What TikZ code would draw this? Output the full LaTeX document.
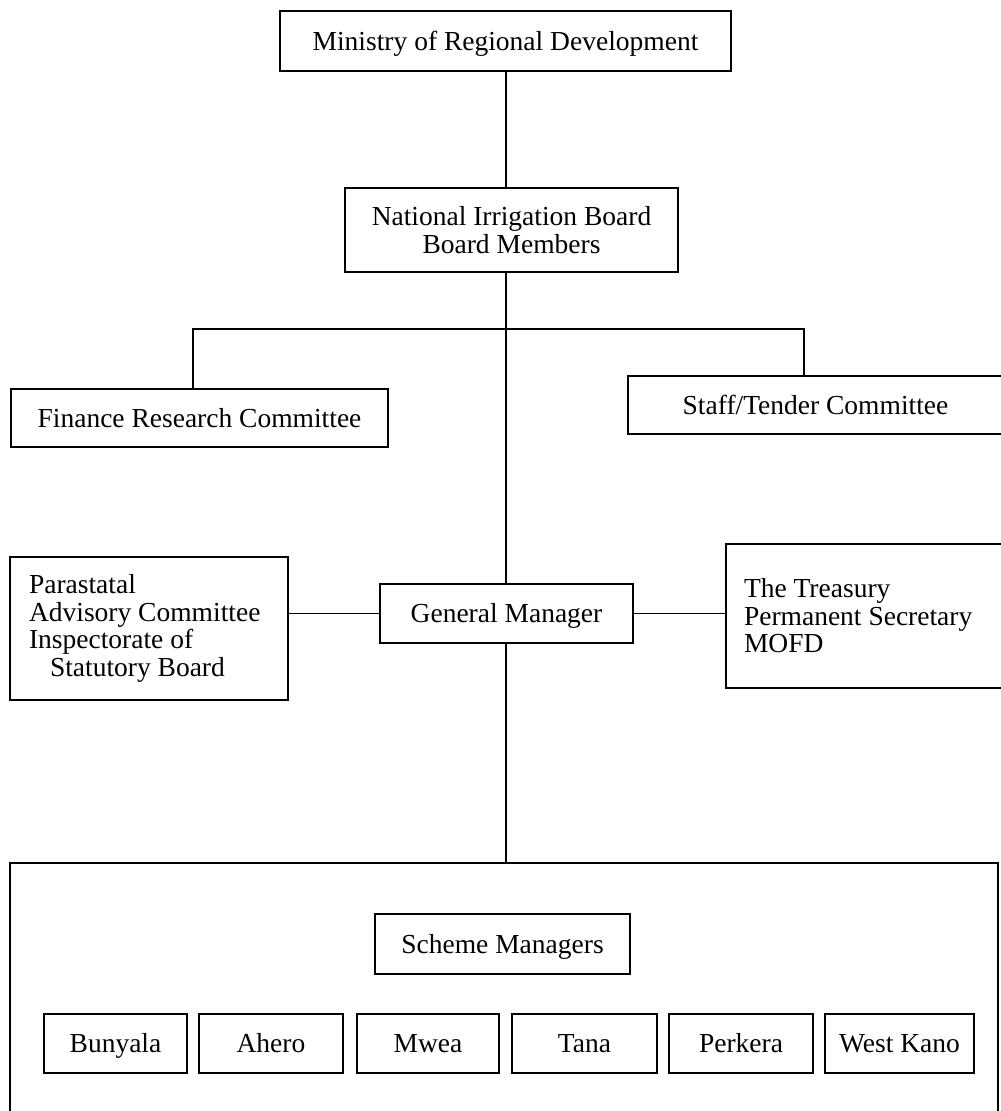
\documentclass[tikz,border=0pt]{standalone}
\usepackage{fontspec}
\setmainfont{Liberation Serif}
\begin{document}
\begin{tikzpicture}[x=1pt,y=-1pt,
  box/.style={draw=black,line width=1.1pt,inner sep=0pt,align=center},
  sbox/.style={box,text height=18pt,text depth=0pt},
  lbox/.style={draw=black,line width=1.1pt,inner ysep=0pt,align=flush left},
  link/.style={draw=black,line width=1.1pt},
  font=\fontsize{27.5}{27.5}\selectfont]
\useasboundingbox (0,0) rectangle (1001,1111);
\clip (0,0) rectangle (1001,1111);
\fill[white] (0,0) rectangle (1001,1111);
% boxes
\node[sbox,minimum width=451pt,minimum height=60pt] (min) at (505.5,41) {Ministry of Regional Development};
\node[box,minimum width=333pt,minimum height=84pt] (nib) at (511.5,230) {National Irrigation Board\\Board Members};
\node[sbox,minimum width=377pt,minimum height=58pt] (fin) at (199.5,418) {Finance Research Committee};
\node[sbox,minimum width=375pt,minimum height=58pt] (stf) at (815.5,405) {Staff/Tender Committee};
\node[sbox,minimum width=253pt,minimum height=59pt] (gm) at (506.5,613.5) {General Manager};
\node[lbox,inner xsep=19pt,text width=240pt,minimum height=143pt] (par) at (149,628.5)
  {Parastatal\\Advisory Committee\\Inspectorate of\\\hspace*{21pt}Statutory Board};
\node[lbox,inner xsep=18pt,text width=243pt,minimum height=144pt] (trs) at (865.5,616)
  {The Treasury\\Permanent Secretary\\MOFD};
\node[box,minimum width=988pt,minimum height=256pt] (sch) at (504,991) {};
\node[sbox,minimum width=255pt,minimum height=60pt] (smg) at (502.5,944) {Scheme Managers};
\node[sbox,minimum width=143pt,minimum height=59pt] (bun) at (115.5,1043.5) {Bunyala};
\node[sbox,minimum width=144pt,minimum height=59pt] (ahe) at (271,1043.5) {Ahero};
\node[sbox,minimum width=142pt,minimum height=59pt] (mwe) at (428,1043.5) {Mwea};
\node[sbox,minimum width=145pt,minimum height=59pt] (tan) at (584.5,1043.5) {Tana};
\node[sbox,minimum width=144pt,minimum height=59pt] (per) at (741,1043.5) {Perkera};
\node[sbox,minimum width=149pt,minimum height=59pt] (wka) at (899.5,1043.5) {West Kano};
% connectors
\coordinate (spine) at (506,0);
\coordinate (barL) at (193,329);
\coordinate (barR) at (804,329);
\draw[link] (min.south -| spine) -- (nib.north -| spine);
\draw[link] (nib.south -| spine) -- (gm.north -| spine);
\draw[link] (barL |- fin.north) -- (barL) -- (barR) -- (barR |- stf.north);
\draw[link] (par.east |- gm.west) -- (gm.west);
\draw[link] (gm.east) -- (trs.west |- gm.east);
\draw[link] (gm.south -| spine) -- (sch.north -| spine);
\end{tikzpicture}
\end{document}
